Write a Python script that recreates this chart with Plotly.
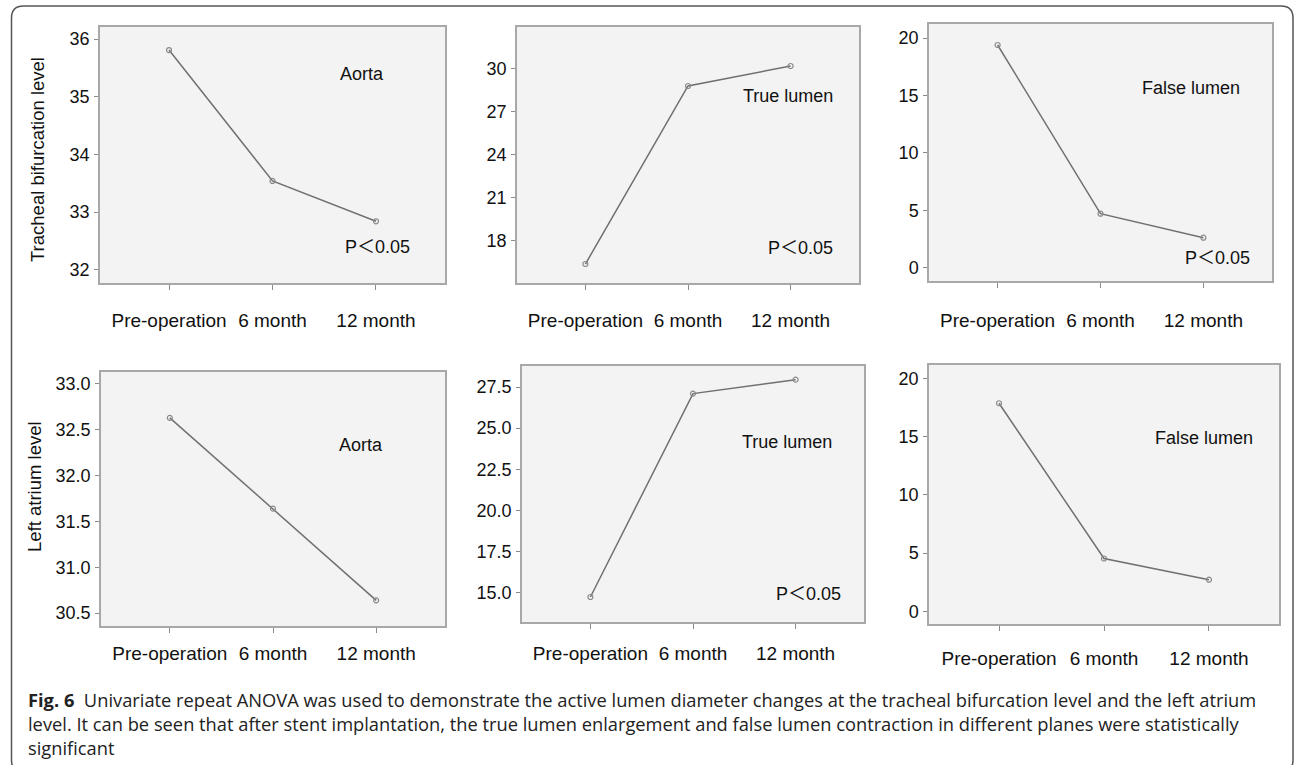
import plotly.graph_objects as go

W, H = 1295, 765

categories = ["Pre-operation", "6 month", "12 month"]

# Tracheal bifurcation level
tb_aorta = [35.81, 33.54, 32.84]
tb_true = [16.40, 28.77, 30.16]
tb_false = [19.39, 4.70, 2.61]
# Left atrium level
la_aorta = [32.63, 31.64, 30.64]
la_true = [14.73, 27.10, 27.95]
la_false = [17.86, 4.54, 2.72]

row_titles = ["Tracheal bifurcation level", "Left atrium level"]
panel_labels = ["Aorta", "True lumen", "False lumen", "Aorta", "True lumen", "False lumen"]
p_label = "P\uff1c0.05"

caption_lines = [
    "<b>Fig. 6</b>\u00a0\u00a0Univariate repeat ANOVA was used to demonstrate the active lumen diameter changes at the tracheal bifurcation level and the left atrium",
    "level. It can be seen that after stent implantation, the true lumen enlargement and false lumen contraction in different planes were statistically",
    "significant",
]

SANS = "Liberation Sans, Arial, sans-serif"

def px(x):
    return x / W

def py(y):
    return 1 - y / H

# panel boxes in pixels: (left, top, right, bottom)
boxes = [
    (100, 27, 445, 283),
    (517, 27, 859, 283),
    (929, 24, 1272, 281),
    (101, 372, 445, 626),
    (522, 366, 864, 622),
    (929, 365, 1279, 624),
]
label_standoff = [14, 14, 16, 4, 8, 11]
series = [tb_aorta, tb_true, tb_false, la_aorta, la_true, la_false]
yranges = [
    [31.77, 36.21],
    [15.08, 32.87],
    [-1.16, 21.22],
    [30.36, 33.13],
    [13.21, 28.78],
    [-1.08, 21.14],
]
ytickvals = [
    [32, 33, 34, 35, 36],
    [18, 21, 24, 27, 30],
    [0, 5, 10, 15, 20],
    [30.5, 31.0, 31.5, 32.0, 32.5, 33.0],
    [15.0, 17.5, 20.0, 22.5, 25.0, 27.5],
    [0, 5, 10, 15, 20],
]
ytickfmt = ["d", "d", "d", ".1f", ".1f", "d"]

fig = go.Figure()
layout = dict(
    width=W, height=H,
    margin=dict(l=0, r=0, t=0, b=0),
    paper_bgcolor="white",
    plot_bgcolor="#f3f3f3",
    showlegend=False,
    font=dict(family=SANS, color="#111111"),
)

for i in range(6):
    n = "" if i == 0 else str(i + 1)
    l, t, r, b = boxes[i]
    fig.add_trace(go.Scatter(
        x=categories, y=series[i], mode="lines+markers",
        line=dict(color="#707070", width=1.5),
        marker=dict(symbol="circle-open", size=5, color="#8a8a8a", line=dict(width=1.2)),
        xaxis="x" + n, yaxis="y" + n, hoverinfo="x+y",
    ))
    layout["xaxis" + n] = dict(
        domain=[px(l), px(r)], anchor="y" + n,
        type="category", categoryorder="array", categoryarray=categories,
        range=[-0.667, 2.667],
        showgrid=False, zeroline=False,
        showline=True, mirror=True, linecolor="#a8a8a8", linewidth=1.5,
        ticks="outside", ticklen=5, tickcolor="#8a8a8a", tickwidth=1,
        ticklabelstandoff=label_standoff[i],
        tickfont=dict(size=19, color="#111111", family=SANS),
    )
    layout["yaxis" + n] = dict(
        domain=[py(b), py(t)], anchor="x" + n,
        range=yranges[i],
        tickmode="array", tickvals=ytickvals[i], tickformat=ytickfmt[i],
        showgrid=False, zeroline=False,
        showline=True, mirror=True, linecolor="#a8a8a8", linewidth=1.5,
        ticks="outside", ticklen=4, tickcolor="#8a8a8a", tickwidth=1,
        ticklabelstandoff=1,
        tickfont=dict(size=18, color="#111111", family=SANS),
    )

annotations = []
label_pos = [(362, 74), (788, 96), (1191, 88), (361, 445), (787, 442), (1204, 438)]
for (x, y), txt in zip(label_pos, panel_labels):
    annotations.append(dict(x=px(x), y=py(y), xref="paper", yref="paper", text=txt,
                            showarrow=False, xanchor="center", yanchor="middle",
                            font=dict(size=18, color="#111111", family=SANS)))
p_pos = [(377, 247), (800, 248), (1217, 258), (808, 594)]
for (x, y) in p_pos:
    annotations.append(dict(x=px(x), y=py(y), xref="paper", yref="paper", text=p_label,
                            showarrow=False, xanchor="center", yanchor="middle",
                            font=dict(size=18, color="#111111",
                                      family="Liberation Sans, Arial, Noto Sans CJK SC, sans-serif")))
title_pos = [(37, 160), (35, 487)]
for (x, y), txt in zip(title_pos, row_titles):
    annotations.append(dict(x=px(x), y=py(y), xref="paper", yref="paper", text=txt,
                            showarrow=False, textangle=-90, xanchor="center", yanchor="middle",
                            font=dict(size=18.5, color="#111111", family=SANS)))
cap_y = [699, 723, 747]
for y, txt in zip(cap_y, caption_lines):
    annotations.append(dict(x=px(26), y=py(y), xref="paper", yref="paper", text=txt,
                            showarrow=False, xanchor="left", yanchor="middle", align="left",
                            font=dict(size=18.3, color="#222222", family="Open Sans, Lato, sans-serif")))
layout["annotations"] = annotations

# outer rounded border
L, T, R, B, rad = 11.5, 6, 1293, 772, 12
path = (f"M {px(L+rad)},{py(T)} L {px(R-rad)},{py(T)} Q {px(R)},{py(T)} {px(R)},{py(T+rad)} "
        f"L {px(R)},{py(B-rad)} Q {px(R)},{py(B)} {px(R-rad)},{py(B)} "
        f"L {px(L+rad)},{py(B)} Q {px(L)},{py(B)} {px(L)},{py(B-rad)} "
        f"L {px(L)},{py(T+rad)} Q {px(L)},{py(T)} {px(L+rad)},{py(T)} Z")
layout["shapes"] = [dict(type="path", path=path, xref="paper", yref="paper",
                         line=dict(color="#555555", width=1.5), layer="below")]

fig.update_layout(**layout)
fig.write_html("out.html", config={"displayModeBar": False},
               post_script="document.body.style.margin='0';document.body.style.overflow='hidden';")
